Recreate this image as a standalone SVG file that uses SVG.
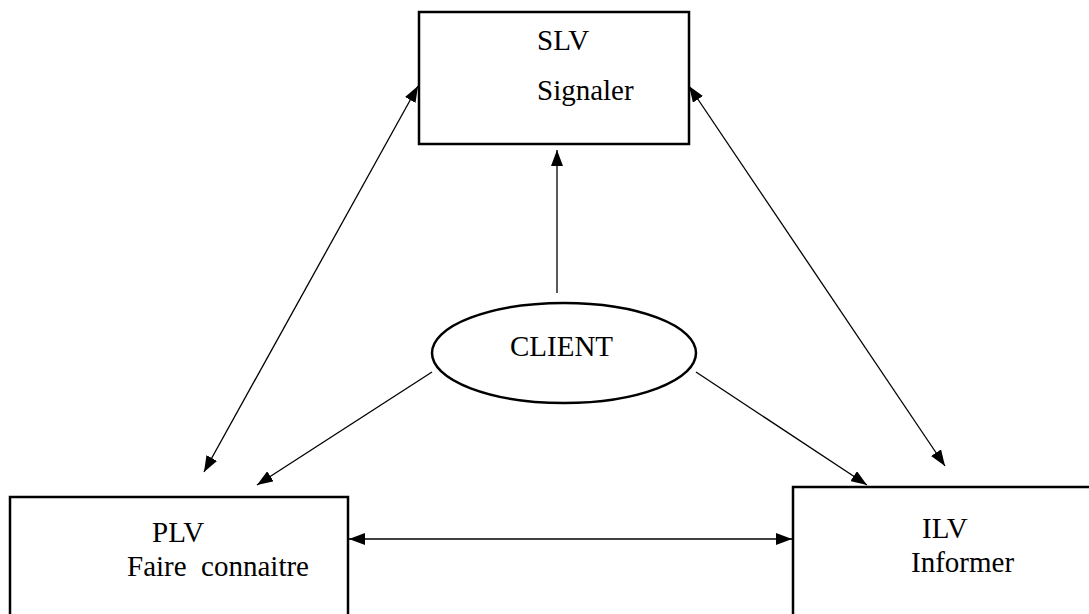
<svg xmlns="http://www.w3.org/2000/svg" width="1089" height="614" viewBox="0 0 1089 614">
<style>
.box{fill:#fff;stroke:#000;stroke-width:2.5}
.lbl{font-family:"Liberation Serif","Times New Roman",serif;font-size:29px;fill:#000;white-space:pre}
.conn{stroke:#000;stroke-width:1.3;fill:none}
</style>
<defs>
<marker id="ah" viewBox="0 0 16 12" refX="16" refY="6" markerWidth="16" markerHeight="12" markerUnits="userSpaceOnUse" orient="auto-start-reverse">
<path d="M0,0 L16,6 L0,12 z" fill="#000"/>
</marker>
</defs>
<rect width="1089" height="614" fill="#fff"/>
<g id="slv">
<rect class="box" x="419" y="12" width="270" height="132"/>
<text class="lbl" x="537" y="50">SLV</text>
<text class="lbl" x="537" y="100">Signaler</text>
</g>
<g id="plv">
<rect class="box" x="10" y="497" width="338" height="140"/>
<text class="lbl" x="152" y="542">PLV</text>
<text class="lbl" x="127" y="576" xml:space="preserve">Faire  connaitre</text>
</g>
<g id="ilv">
<rect class="box" x="793" y="487" width="320" height="150"/>
<text class="lbl" x="922" y="538">ILV</text>
<text class="lbl" x="911" y="572">Informer</text>
</g>
<g id="client">
<ellipse class="box" cx="564" cy="353" rx="132" ry="50"/>
<text class="lbl" x="510" y="356">CLIENT</text>
</g>
<g id="connectors">
<line class="conn" x1="557" y1="293" x2="557" y2="150" marker-end="url(#ah)"/>
<line class="conn" x1="432" y1="372" x2="257" y2="485" marker-end="url(#ah)"/>
<line class="conn" x1="696" y1="372" x2="867" y2="485" marker-end="url(#ah)"/>
<line class="conn" x1="418" y1="86" x2="204" y2="472" marker-start="url(#ah)" marker-end="url(#ah)"/>
<line class="conn" x1="689" y1="86" x2="945" y2="466" marker-start="url(#ah)" marker-end="url(#ah)"/>
<line class="conn" x1="349" y1="539" x2="792" y2="539" marker-start="url(#ah)" marker-end="url(#ah)"/>
</g>
</svg>
